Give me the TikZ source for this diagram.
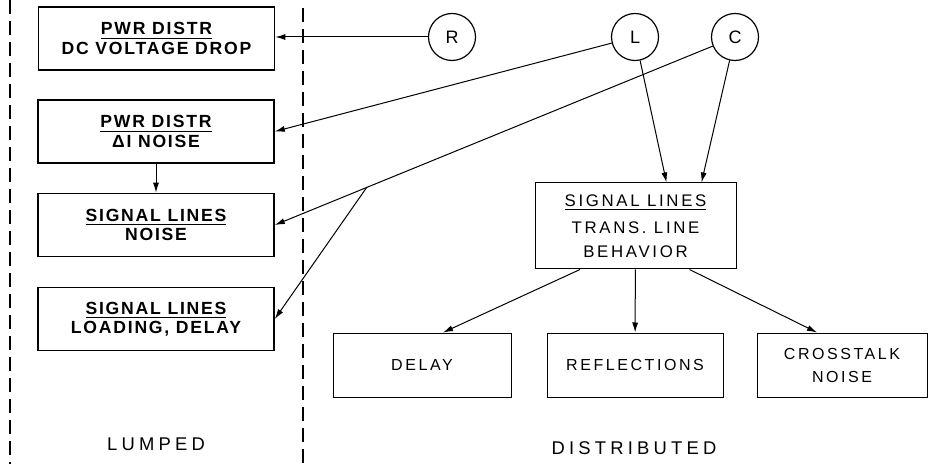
\documentclass[tikz,border=0pt]{standalone}
\usepackage{fontspec}
\setmainfont{Liberation Sans}
\newfontfamily\boxfont{Liberation Sans}[LetterSpace=16]
\newfontfamily\lumpfont{Liberation Sans}[LetterSpace=10]
\newfontfamily\regionfont{Liberation Sans}[LetterSpace=23]
\usetikzlibrary{arrows.meta}

\begin{document}
\begin{tikzpicture}[x=0.5pt,y=-0.5pt,
    box/.style={draw,line width=0.8pt,minimum width=118pt,minimum height=31.5pt,inner sep=0pt,
      align=center,font=\lumpfont\bfseries\fontsize{8.8}{9.6}\selectfont},
    dbox/.style={draw,line width=0.5pt,minimum height=32pt,inner sep=0pt,
      align=center,font=\boxfont\fontsize{8}{11.5}\selectfont},
    elem/.style={draw,circle,line width=0.6pt,minimum size=23.5pt,inner sep=0pt,
      font=\fontsize{9}{10}\selectfont},
    conn/.style={line width=0.5pt,-{Latex[length=5pt,width=3pt]}},
    sep/.style={line width=0.8pt,dash pattern=on 7pt off 3.5pt},
    region/.style={font=\regionfont\fontsize{9.2}{10}\selectfont}]
  \useasboundingbox (0,0) rectangle (946,464);
  % lumped / distributed split
  \draw[sep] (10,0) -- (10,464);
  \draw[sep] (303,8) -- (303,464);
  % lumped side
  \node[box] (pwrdc) at (156.5,38.5) {\underline{PWR DISTR}\\DC VOLTAGE DROP};
  \node[box] (pwrnoise) at (156,131.5) {\underline{PWR DISTR}\\ΔI NOISE};
  \node[box] (signoise) at (156,225) {\underline{SIGNAL LINES}\\NOISE};
  \node[box] (sigload) at (156,319) {\underline{SIGNAL LINES}\\LOADING, DELAY};
  \node[region] (lumped) at (156,444) {LUMPED};
  % circuit elements
  \node[elem] (R) at (452,37) {R};
  \node[elem] (L) at (635,37) {L};
  \node[elem] (C) at (735,37) {C};
  % distributed side
  \node[box,line width=0.5pt,minimum width=100.5pt,minimum height=43pt,
    font=\boxfont\fontsize{8.4}{12}\selectfont] (trans) at (635.5,226)
    {\underline{SIGNAL LINES}\\[1.5pt]TRANS. LINE\\BEHAVIOR};
  \node[dbox,minimum width=89pt] (delay) at (422,365) {DELAY};
  \node[dbox,minimum width=88pt] (refl) at (635,365) {REFLECTIONS};
  \node[dbox,minimum width=85pt] (xtalk) at (842,365) {CROSSTALK\\NOISE};
  \node[region] (distributed) at (634,448) {DISTRIBUTED};
  % connectors
  \coordinate (fork) at (367,187);
  \draw[conn] (R) -- (R.west -| pwrdc.east);
  \draw[conn] (L) -- (pwrnoise.east);
  \draw[conn] (pwrnoise) -- (signoise);
  \draw[conn] (C) -- (signoise.east);
  \draw[conn] (fork) -- (sigload.east);
  \draw[conn] (L) -- ([xshift=15.5pt]trans.north);
  \draw[conn] (C) -- ([xshift=33pt]trans.north);
  \draw[conn] ([xshift=-27.75pt]trans.south) -- ([xshift=10.5pt]delay.north);
  \draw[conn] (trans) -- (refl);
  \draw[conn] ([xshift=27pt]trans.south) -- ([xshift=-12.5pt]xtalk.north);
\end{tikzpicture}
\end{document}
